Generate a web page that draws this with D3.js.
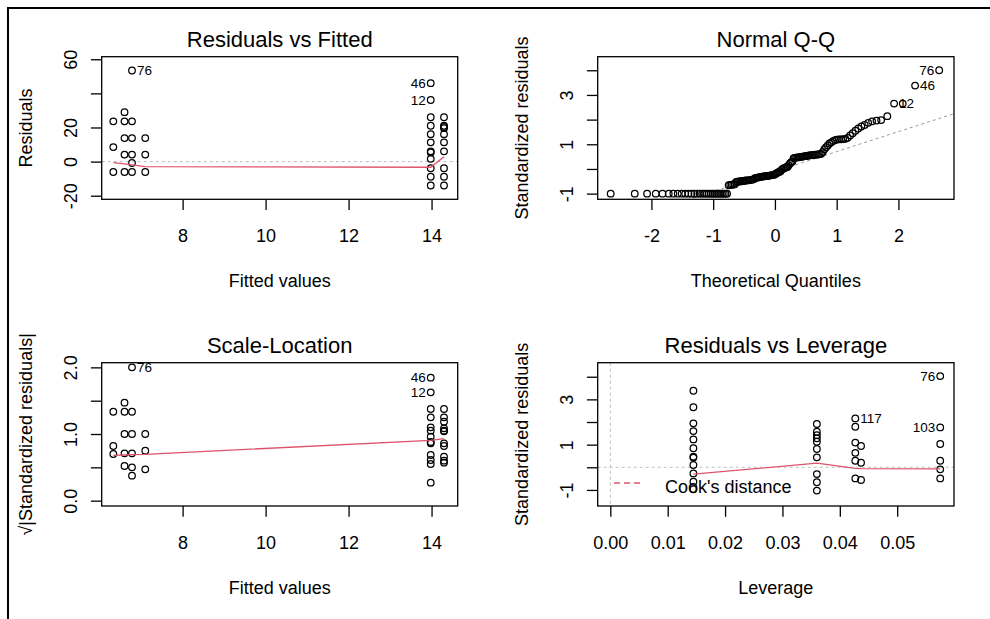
<!DOCTYPE html>
<html>
<head>
<meta charset="utf-8">
<script src="https://cdn.jsdelivr.net/npm/d3@7"></script>
<style>
body { margin: 0; background: #fff; }
svg { display: block; font-family: "Liberation Sans", Arial, sans-serif; }
</style>
</head>
<body>
<svg></svg>
<script>
// ---- Residuals vs Fitted ----
var rvfFitted = [6.33,6.33,6.33, 6.60,6.60,6.60,6.60,6.60, 6.78,6.78,6.78,6.78,6.78,6.78, 7.10,7.10,7.10,
    13.98,13.98,13.98,13.98,13.98,13.98,13.98,13.98,13.98,13.98,13.98,13.98,
    14.30,14.30,14.30,14.30,14.30,14.30,14.30,14.30,14.30,14.30];
var rvfResid = [23.6,8.5,-6.1, 29.0,23.6,13.8,4.1,-6.1, 53.4,23.6,13.8,4.1,-0.8,-6.1, 13.8,4.1,-6.1,
    46.0,36.1,26.0,21.0,16.1,11.3,6.0,5.4,1.6,-3.9,-8.9,-14.0,
    26.0,21.0,20.3,19.6,16.1,11.3,6.0,-3.9,-8.9,-14.0];
var rvfIdIndex = [8, 17, 18];
var rvfSmoothX = [6.33, 6.60, 6.78, 7.10, 13.98, 14.30];
var rvfSmoothY = [-0.6, -1.3, -1.9, -3.0, -3.3, 2.9];

// ---- Normal Q-Q ----
var qqTheo = [-2.66,-2.27,-2.07,-1.93,-1.82,-1.72,-1.645,-1.574,-1.511,-1.453,-1.40,-1.35,-1.304,-1.26,-1.218,
    -1.178,-1.141,-1.105,-1.07,-1.036,-1.004,-0.973,-0.942,-0.913,-0.883,-0.856,-0.828,-0.801,-0.775,
    -0.749,-0.724,-0.699,-0.674,-0.65,
    -0.627,-0.604,-0.581,-0.558,-0.536,-0.513,-0.492,-0.47,-0.448,-0.427,-0.406,-0.385,-0.365,-0.344,
    -0.324,-0.303,-0.283,-0.263,-0.243,-0.223,-0.204,-0.184,-0.165,-0.145,-0.126,-0.106,-0.087,-0.068,-0.048,-0.029,-0.01,
    0.01,0.029,0.048,0.068,0.087,
    0.106,0.126,0.145,0.165,0.184,0.204,
    0.223,0.243,0.263,0.283,
    0.303,0.324,0.344,0.365,0.385,0.406,0.427,0.448,0.47,0.492,0.513,0.536,0.558,0.581,0.604,0.627,0.65,0.674,0.699,0.724,
    0.749,0.775,0.801,0.828,0.856,0.883,0.913,0.942,0.973,1.004,1.036,1.07,1.105,1.141,1.178,1.218,1.26,1.304,1.35,1.40,
    1.453,1.511,1.574,1.645,1.72,1.82,
    1.93,2.07,2.27,2.66];
var qqStd = [-1,-1,-1,-1,-1,-1,-1,-1,-1,-1,-1,-1,-1,-1,-1,-1,-1,-1,-1,-1,-1,-1,-1,-1,-1,-1,-1,-1,-1,
    -0.66,-0.65,-0.64,-0.63,-0.62,
    -0.53,-0.52,-0.51,-0.5,-0.5,-0.49,-0.48,-0.47,-0.46,-0.46,-0.45,-0.44,-0.43,-0.42,
    -0.37,-0.36,-0.35,-0.34,-0.33,-0.32,-0.31,-0.3,-0.3,-0.29,-0.28,-0.28,-0.27,-0.26,-0.25,-0.24,-0.23,
    -0.2,-0.17,-0.14,-0.12,-0.1,
    -0.04,0.0,0.03,0.05,0.07,0.08,
    0.15,0.22,0.27,0.3,
    0.44,0.45,0.46,0.47,0.47,0.48,0.49,0.5,0.51,0.52,0.53,0.54,0.55,0.56,0.56,0.57,0.58,0.58,0.59,0.6,
    0.62,0.69,0.8,0.88,0.95,1.03,1.08,1.13,1.17,1.19,1.2,1.2,1.21,1.22,1.26,1.36,1.45,1.55,1.64,1.72,
    1.78,1.87,1.93,1.96,1.98,2.14,
    2.65,2.65,3.38,4.0];
var qqIdIndex = [129, 128, 126];
var qqLineX = [-2.9, 2.9];
var qqLineY = [-2.45, 2.24];

// ---- Scale-Location ----
var slFitted = [6.33,6.33,6.33, 6.60,6.60,6.60,6.60,6.60, 6.78,6.78,6.78,6.78,6.78,6.78, 7.10,7.10,7.10,
    13.98,13.98,13.98,13.98,13.98,13.98,13.98,13.98,13.98,13.98,13.98,13.98,13.98,
    14.30,14.30,14.30,14.30,14.30,14.30,14.30,14.30,14.30,14.30,14.30];
var slSqrtStd = [1.334,0.82,0.70, 1.47,1.334,1.0,0.71,0.52, 2.0,1.334,1.0,0.71,0.50,0.375, 1.0,0.75,0.47,
    1.845,1.625,1.375,1.25,1.10,1.05,0.96,0.88,0.86,0.685,0.61,0.55,0.27,
    1.375,1.25,1.185,1.085,1.05,1.04,0.86,0.82,0.66,0.60,0.57];
var slIdIndex = [8, 17, 18];
var slSmoothX = [6.33, 6.60, 6.78, 7.10, 13.98, 14.30];
var slSmoothY = [0.68, 0.685, 0.69, 0.695, 0.905, 0.93];

// ---- Residuals vs Leverage ----
var rvlLev = [0.01448,0.01448,0.01448,0.01448,0.01448,0.01448,0.01448,0.01448,0.01448,0.01448,0.01448,0.01448,
    0.036,0.036,0.036,0.036,0.036,0.036,0.036,0.036,0.036,0.036,
    0.0427,0.0427,0.0427,0.0427,0.0427,0.0427,
    0.0437,0.0437,0.0437,
    0.0575,0.0575,0.0575,0.0575,0.0575,0.0575];
var rvlStd = [3.38,2.65,1.94,1.6,1.23,0.84,0.47,0.43,0.1,-0.27,-0.64,-0.97,
    1.91,1.57,1.42,1.28,1.13,0.81,0.44,-0.3,-0.66,-1.03,
    2.16,1.79,1.09,0.64,0.29,-0.49,
    0.94,0.2,-0.56,
    4.03,1.76,1.03,0.29,-0.09,-0.49];
var rvlIdIndex = [31, 22, 32];
var rvlSmoothX = [0.01448, 0.036, 0.0427, 0.0437, 0.0575];
var rvlSmoothY = [-0.3, 0.18, -0.05, -0.06, -0.07];

var idLabels = ["76", "46", "12"];
var rvlIdLabels = ["76", "117", "103"];

var svg = d3.select("svg")
    .attr("width", 990)
    .attr("height", 619);

svg.append("rect").attr("width", 990).attr("height", 619).attr("fill", "#fff");

// outer frame (top and left only)
svg.append("path")
    .attr("d", "M8,619 L8,8 L990,8")
    .attr("fill", "none")
    .attr("stroke", "#000")
    .attr("stroke-width", 2);

var red = "#DF536B";
var grey = "#BEBEBE";
var clipId = 0;

function drawPanel(p) {
    var x = d3.scaleLinear().domain(p.xDomain).range([p.left, p.right]);
    var y = d3.scaleLinear().domain(p.yDomain).range([p.bottom, p.top]);
    var g = svg.append("g");

    clipId++;
    g.append("clipPath").attr("id", "clip" + clipId)
        .append("rect")
        .attr("x", p.left).attr("y", p.top)
        .attr("width", p.right - p.left).attr("height", p.bottom - p.top);
    var inner = g.append("g").attr("clip-path", "url(#clip" + clipId + ")");

    if (p.hZero) {
        inner.append("line")
            .attr("x1", p.left).attr("x2", p.right)
            .attr("y1", y(0)).attr("y2", y(0))
            .attr("stroke", grey).attr("stroke-dasharray", "3,3");
    }
    if (p.vZero) {
        inner.append("line")
            .attr("x1", x(0)).attr("x2", x(0))
            .attr("y1", p.top).attr("y2", p.bottom)
            .attr("stroke", grey).attr("stroke-dasharray", "3,3");
    }
    if (p.refX) {
        inner.append("line")
            .attr("x1", x(p.refX[0])).attr("x2", x(p.refX[1]))
            .attr("y1", y(p.refY[0])).attr("y2", y(p.refY[1]))
            .attr("stroke", "#999").attr("stroke-dasharray", "3,3");
    }

    var pts = p.px.map(function(d, i) { return [d, p.py[i]]; });
    inner.selectAll("circle")
        .data(pts)
        .enter().append("circle")
        .attr("cx", function(d) { return x(d[0]); })
        .attr("cy", function(d) { return y(d[1]); })
        .attr("r", 3.3)
        .attr("fill", "none")
        .attr("stroke", "#000")
        .attr("stroke-width", 1.25);

    if (p.sx) {
        var line = d3.line()
            .x(function(d) { return x(d[0]); })
            .y(function(d) { return y(d[1]); });
        inner.append("path")
            .datum(p.sx.map(function(d, i) { return [d, p.sy[i]]; }))
            .attr("fill", "none")
            .attr("stroke", red)
            .attr("stroke-width", 1.3)
            .attr("d", line);
    }

    // id labels, placed like R's text.id
    var idx = p.ids.map(function(i) { return p.px[i]; });
    var mid = (d3.min(idx) + d3.max(idx)) / 2;
    p.ids.forEach(function(i, k) {
        var right = p.px[i] <= mid;
        g.append("text")
            .attr("x", x(p.px[i]) + (right ? 5 : -5))
            .attr("y", y(p.py[i]))
            .attr("dy", "0.35em")
            .attr("text-anchor", right ? "start" : "end")
            .attr("font-size", 13.5)
            .text(p.idText[k]);
    });

    g.append("rect")
        .attr("x", p.left).attr("y", p.top)
        .attr("width", p.right - p.left).attr("height", p.bottom - p.top)
        .attr("fill", "none")
        .attr("stroke", "#000")
        .attr("stroke-width", 1.3);

    var xa = g.append("g")
        .attr("transform", "translate(0," + p.bottom + ")")
        .call(d3.axisBottom(x).tickValues(p.xTicks).tickSize(10.8).tickSizeOuter(0).tickFormat(p.xFormat))
        .attr("font-family", null)
        .attr("font-size", 18);
    xa.select(".domain").remove();
    xa.selectAll(".tick line").attr("stroke-width", 1.3);
    xa.selectAll(".tick text").attr("y", 42.7).attr("dy", 0).attr("fill", "#000");

    var ya = g.append("g")
        .attr("transform", "translate(" + p.left + ",0)")
        .call(d3.axisLeft(y).tickValues(p.yTicks).tickSize(10.8).tickSizeOuter(0)
            .tickFormat(function(d) { return p.yLabels.indexOf(d) >= 0 ? p.yFormat(d) : ""; }))
        .attr("font-family", null)
        .attr("font-size", 18);
    ya.select(".domain").remove();
    ya.selectAll(".tick line").attr("stroke-width", 1.3);
    ya.selectAll(".tick text")
        .attr("transform", "rotate(-90)")
        .attr("x", 0).attr("y", -25).attr("dy", 0)
        .attr("text-anchor", "middle")
        .attr("fill", "#000");

    var cx = (p.left + p.right) / 2, cy = (p.top + p.bottom) / 2;
    g.append("text")
        .attr("x", cx).attr("y", p.top - 10)
        .attr("text-anchor", "middle")
        .attr("font-size", 22)
        .text(p.title);
    g.append("text")
        .attr("x", cx).attr("y", p.bottom + 88)
        .attr("text-anchor", "middle")
        .attr("font-size", 18)
        .text(p.xlab);
    g.append("text")
        .attr("transform", "translate(" + (p.left - 70) + "," + cy + ") rotate(-90)")
        .attr("text-anchor", "middle")
        .attr("font-size", 18)
        .text(p.ylab);

    return { x: x, y: y, g: g };
}

var fmtPlain = function(d) { return String(d); };

drawPanel({
    left: 101.7, right: 457.7, top: 56.7, bottom: 199.3,
    xDomain: [6.05, 14.63], yDomain: [-22.1, 61.5],
    xTicks: [8, 10, 12, 14], xFormat: fmtPlain,
    yTicks: [-20, 0, 20, 40, 60], yLabels: [-20, 0, 20, 60], yFormat: fmtPlain,
    px: rvfFitted, py: rvfResid, sx: rvfSmoothX, sy: rvfSmoothY,
    ids: rvfIdIndex, idText: idLabels, hZero: true,
    title: "Residuals vs Fitted", xlab: "Fitted values", ylab: "Residuals"
});

drawPanel({
    left: 597.7, right: 954, top: 56.7, bottom: 199.3,
    xDomain: [-2.87, 2.9], yDomain: [-1.23, 4.55],
    xTicks: [-2, -1, 0, 1, 2], xFormat: fmtPlain,
    yTicks: [-1, 0, 1, 2, 3, 4], yLabels: [-1, 1, 3], yFormat: fmtPlain,
    px: qqTheo, py: qqStd, refX: qqLineX, refY: qqLineY,
    ids: qqIdIndex, idText: idLabels,
    title: "Normal Q-Q", xlab: "Theoretical Quantiles", ylab: "Standardized residuals"
});

drawPanel({
    left: 101.7, right: 457.7, top: 362.7, bottom: 506,
    xDomain: [6.05, 14.63], yDomain: [-0.08, 2.07],
    xTicks: [8, 10, 12, 14], xFormat: fmtPlain,
    yTicks: [0, 0.5, 1, 1.5, 2], yLabels: [0, 1, 2], yFormat: d3.format(".1f"),
    px: slFitted, py: slSqrtStd, sx: slSmoothX, sy: slSmoothY,
    ids: slIdIndex, idText: idLabels,
    title: "Scale-Location", xlab: "Fitted values", ylab: "\u221A|Standardized residuals|"
});

var p4 = drawPanel({
    left: 597.7, right: 954, top: 362.7, bottom: 506,
    xDomain: [-0.0022, 0.0599], yDomain: [-1.71, 4.62],
    xTicks: [0, 0.01, 0.02, 0.03, 0.04, 0.05], xFormat: d3.format(".2f"),
    yTicks: [-1, 0, 1, 2, 3, 4], yLabels: [-1, 1, 3], yFormat: fmtPlain,
    px: rvlLev, py: rvlStd, sx: rvlSmoothX, sy: rvlSmoothY,
    ids: rvlIdIndex, idText: rvlIdLabels, hZero: true, vZero: true,
    title: "Residuals vs Leverage", xlab: "Leverage", ylab: "Standardized residuals"
});

// Cook's distance legend
p4.g.append("line")
    .attr("x1", 614).attr("x2", 644)
    .attr("y1", 483).attr("y2", 483)
    .attr("stroke", red)
    .attr("stroke-width", 1.3)
    .attr("stroke-dasharray", "6,4");
p4.g.append("text")
    .attr("x", 665).attr("y", 492.5)
    .attr("font-size", 18)
    .text("Cook's distance");
</script>
</body>
</html>
